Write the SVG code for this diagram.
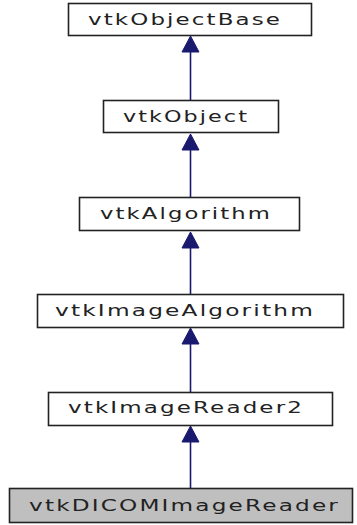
<svg xmlns="http://www.w3.org/2000/svg" width="357" height="525" viewBox="0 0 357 525">
<style>
.box{fill:#ffffff;stroke:#222222;stroke-width:1.6}
.cur{fill:#bfbfbf}
.lbl{font-family:"DejaVu Sans",sans-serif;font-size:16px;fill:#222222;letter-spacing:1.5px}
.edge{stroke:#191970;stroke-width:1.6;fill:none}
.head{fill:#191970;stroke:#191970;stroke-width:1}
</style>
<rect width="357" height="525" fill="#ffffff"/>
<g id="edges">
<line class="edge" x1="190.5" y1="50" x2="190.5" y2="100"/>
<polygon class="head" points="190.5,36 182,52 199,52"/>
<line class="edge" x1="190.5" y1="148" x2="190.5" y2="197"/>
<polygon class="head" points="190.5,134 182,150 199,150"/>
<line class="edge" x1="190.5" y1="246" x2="190.5" y2="294"/>
<polygon class="head" points="190.5,232 182,248 199,248"/>
<line class="edge" x1="190.5" y1="342" x2="190.5" y2="392"/>
<polygon class="head" points="190.5,328 182,344 199,344"/>
<line class="edge" x1="190.5" y1="440" x2="190.5" y2="488"/>
<polygon class="head" points="190.5,426 182,442 199,442"/>
</g>
<g id="vtkObjectBase">
<rect class="box" x="68.5" y="3.5" width="243" height="32"/>
<text class="lbl" x="88" y="25" textLength="194" lengthAdjust="spacingAndGlyphs">vtkObjectBase</text>
</g>
<g id="vtkObject">
<rect class="box" x="103.5" y="100.5" width="175" height="32"/>
<text class="lbl" x="123" y="122" textLength="126" lengthAdjust="spacingAndGlyphs">vtkObject</text>
</g>
<g id="vtkAlgorithm">
<rect class="box" x="79.5" y="197.5" width="220" height="33"/>
<text class="lbl" x="100" y="219" textLength="172" lengthAdjust="spacingAndGlyphs">vtkAlgorithm</text>
</g>
<g id="vtkImageAlgorithm">
<rect class="box" x="37.5" y="294.5" width="306" height="33"/>
<text class="lbl" x="55" y="316" textLength="260" lengthAdjust="spacingAndGlyphs">vtkImageAlgorithm</text>
</g>
<g id="vtkImageReader2">
<rect class="box" x="48.5" y="392.5" width="284" height="33"/>
<text class="lbl" x="68" y="413" textLength="236" lengthAdjust="spacingAndGlyphs">vtkImageReader2</text>
</g>
<g id="vtkDICOMImageReader">
<rect class="box cur" x="9.5" y="488.5" width="343" height="34"/>
<text class="lbl" x="29" y="511" textLength="311" lengthAdjust="spacingAndGlyphs">vtkDICOMImageReader</text>
</g>
</svg>
